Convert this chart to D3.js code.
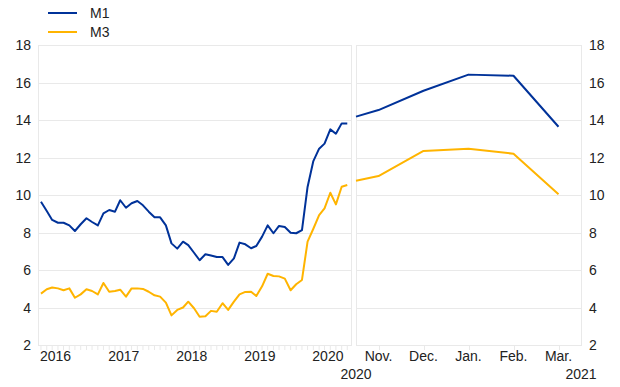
<!DOCTYPE html>
<html>
<head>
<meta charset="utf-8">
<script src="https://cdn.jsdelivr.net/npm/d3@7"></script>
<style>
  body { margin: 0; background: #fff; }
  svg text { font-family: "Liberation Sans", Arial, sans-serif; fill: #222; }
</style>
</head>
<body>
<svg id="chart" width="620" height="387"></svg>
<script>
// monthly annual growth rates, Jan 2016 - Jul 2020
const months = d3.timeMonth.range(new Date(2016, 0, 1), new Date(2020, 7, 1));
const m1Left = [9.64, 9.15, 8.67, 8.52, 8.52, 8.38, 8.08, 8.44, 8.76, 8.56, 8.38, 9.02,
  9.2, 9.11, 9.72, 9.32, 9.56, 9.68, 9.45, 9.11, 8.81, 8.81, 8.38, 7.42,
  7.14, 7.51, 7.33, 6.92, 6.52, 6.84, 6.77, 6.69, 6.69, 6.27, 6.62, 7.46,
  7.37, 7.16, 7.28, 7.78, 8.38, 7.96, 8.35, 8.29, 7.99, 7.96, 8.13, 10.43,
  11.81, 12.47, 12.74, 13.5, 13.27, 13.82, 13.82];
const m3Left = [4.74, 4.97, 5.07, 5.02, 4.92, 5.02, 4.52, 4.7, 4.97, 4.88, 4.7, 5.31,
  4.84, 4.88, 4.95, 4.58, 5.02, 5.02, 4.99, 4.84, 4.65, 4.58, 4.26, 3.58,
  3.87, 4.0, 4.31, 3.96, 3.51, 3.53, 3.82, 3.77, 4.23, 3.87, 4.31, 4.7,
  4.83, 4.84, 4.61, 5.13, 5.8, 5.68, 5.66, 5.54, 4.92, 5.24, 5.47, 7.51,
  8.2, 8.93, 9.29, 10.12, 9.5, 10.44, 10.53];

// right panel: Nov. 2020 - Mar. 2021 (first point at the start of the period)
const rightLabels = ['Nov.', 'Dec.', 'Jan.', 'Feb.', 'Mar.'];
const rightPos = [-0.5, 0, 1, 2, 3, 4];
const m1Right = [14.18, 14.53, 15.56, 16.42, 16.36, 13.64];
const m3Right = [10.76, 11.01, 12.35, 12.47, 12.2, 10.04];

const yearLabels = ['2016', '2017', '2018', '2019', '2020'];
const yTicks = [2, 4, 6, 8, 10, 12, 14, 16, 18];

const blue = '#003299', yellow = '#ffb400', grid = '#e9e9e9';

const svg = d3.select('#chart');

const y = d3.scaleLinear().domain([2, 18]).range([345, 45]);
const xL = d3.scaleTime()
  .domain([new Date(2015, 11, 16), new Date(2020, 6, 21)])
  .range([38, 351]);
const xR = d3.scaleLinear().domain([-0.5, 4.5]).range([356, 581]);

// panels: gridlines and borders
[[38, 351], [356, 581]].forEach(([x0, x1]) => {
  svg.append('g')
    .selectAll('line')
    .data(yTicks)
    .enter()
    .append('line')
    .attr('x1', x0).attr('x2', x1)
    .attr('y1', d => Math.round(y(d)) + 0.5)
    .attr('y2', d => Math.round(y(d)) + 0.5)
    .attr('stroke', grid);
  [x0, x1].forEach(xx => {
    svg.append('line')
      .attr('x1', xx + 0.5).attr('x2', xx + 0.5)
      .attr('y1', y(18)).attr('y2', y(2) + 1)
      .attr('stroke', grid);
  });
});

// y labels both sides
svg.append('g')
  .selectAll('text')
  .data(yTicks)
  .enter()
  .append('text')
  .attr('x', 31)
  .attr('y', d => y(d) + 5)
  .attr('text-anchor', 'end')
  .style('font-size', '14px')
  .text(d => d);

svg.append('g')
  .selectAll('text')
  .data(yTicks)
  .enter()
  .append('text')
  .attr('x', 589)
  .attr('y', d => y(d) + 5)
  .style('font-size', '14px')
  .text(d => d);

// bottom ticks
svg.append('g')
  .selectAll('line')
  .data(d3.timeMonth.range(new Date(2016, 0, 1), new Date(2020, 7, 1)))
  .enter()
  .append('line')
  .attr('x1', d => xL(d)).attr('x2', d => xL(d))
  .attr('y1', y(2) + 1).attr('y2', y(2) + 5)
  .attr('stroke', grid);

svg.append('g')
  .selectAll('line')
  .data(rightLabels)
  .enter()
  .append('line')
  .attr('x1', (d, i) => Math.round(xR(i)) + 0.5)
  .attr('x2', (d, i) => Math.round(xR(i)) + 0.5)
  .attr('y1', y(2) + 1).attr('y2', y(2) + 5)
  .attr('stroke', grid);

// x labels
svg.append('g')
  .selectAll('text')
  .data(yearLabels)
  .enter()
  .append('text')
  .attr('x', d => xL(new Date(+d, 0, 1)) - 1)
  .attr('y', 361)
  .style('font-size', '14px')
  .text(d => d);

svg.append('g')
  .selectAll('text')
  .data(rightLabels)
  .enter()
  .append('text')
  .attr('x', (d, i) => xR(i))
  .attr('y', 361)
  .attr('text-anchor', 'middle')
  .style('font-size', '14px')
  .text(d => d);

svg.append('text').attr('x', xR(-0.5)).attr('y', 379)
  .attr('text-anchor', 'middle').style('font-size', '14px').text('2020');
svg.append('text').attr('x', xR(4.5)).attr('y', 379)
  .attr('text-anchor', 'middle').style('font-size', '14px').text('2021');

// lines
const lineL = d3.line().x((d, i) => xL(months[i])).y(d => y(d));
const lineR = d3.line().x((d, i) => xR(rightPos[i])).y(d => y(d));

[[m3Left, m3Right, yellow], [m1Left, m1Right, blue]].forEach(([l, r, c]) => {
  svg.append('path').datum(l).attr('d', lineL)
    .attr('fill', 'none').attr('stroke', c).attr('stroke-width', 2)
    .attr('stroke-linejoin', 'round');
  svg.append('path').datum(r).attr('d', lineR)
    .attr('fill', 'none').attr('stroke', c).attr('stroke-width', 2)
    .attr('stroke-linejoin', 'round');
});

// legend
const legend = [['M1', blue], ['M3', yellow]];
legend.forEach(([name, c], i) => {
  const ly = 13 + i * 19;
  svg.append('line').attr('x1', 48).attr('x2', 77)
    .attr('y1', ly).attr('y2', ly)
    .attr('stroke', c).attr('stroke-width', 2);
  svg.append('text').attr('x', 90).attr('y', ly + 5)
    .style('font-size', '14px').text(name);
});
</script>
</body>
</html>
